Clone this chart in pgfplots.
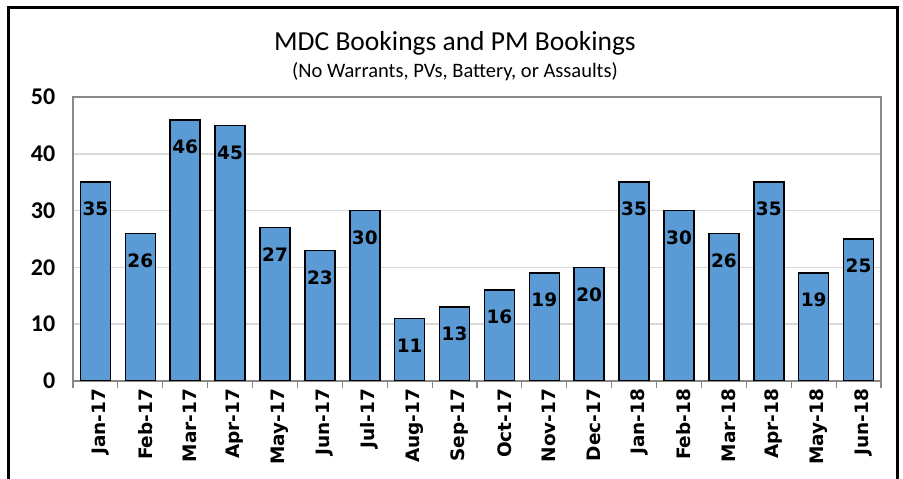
\documentclass[border=0pt]{standalone}
\usepackage{pgfplots}
\pgfplotsset{compat=1.18}
\usepackage{fontspec}
\setmainfont{Carlito}
\newfontfamily\dv{DejaVu Sans}
\definecolor{barblue}{HTML}{5B9BD5}
\definecolor{axgray}{HTML}{898989}
\definecolor{gridgray}{HTML}{D9D9D9}
\begin{document}
\begin{tikzpicture}[x=1pt,y=1pt]
\path[use as bounding box] (0,0) rectangle (903,479);
\fill[white] (0,0) rectangle (903,479);
\begin{axis}[at={(73pt,98pt)}, anchor=south west, width=808pt, height=284pt, scale only axis,
  /pgf/number format/assume math mode=true,
  xmin=-0.5, xmax=17.5, ymin=0, ymax=50,
  ytick={0,10,...,50},
  xtick={0,...,17},
  xticklabels={Jan-17,Feb-17,Mar-17,Apr-17,May-17,Jun-17,Jul-17,Aug-17,Sep-17,Oct-17,Nov-17,Dec-17,Jan-18,Feb-18,Mar-18,Apr-18,May-18,Jun-18},
  minor xtick={-0.5,0.5,...,17.5},
  xtick pos=bottom, ytick pos=left,
  axis line style={axgray, line width=1.5pt},
  ymajorgrids, major grid style={gridgray, line width=1.5pt},
  major x tick style={draw=none}, ytick style={draw=none},
  minor x tick style={axgray, line width=1.2pt},
  minor tick length=7pt, tick align=outside,
  x tick label style={rotate=90, anchor=east, font=\dv\bfseries\fontsize{18.5}{18.5}\selectfont, yshift=-5pt},
  y tick label style={font=\bfseries\fontsize{24}{24}\selectfont, xshift=-10pt},
]
\addplot[ybar, bar width=30pt, fill=barblue, draw=black, line width=1.6pt,
  nodes near coords,
  every node near coord/.append style={font=\dv\bfseries\fontsize{18.5}{18.5}\selectfont, anchor=center, yshift=-27pt, text=black}]
  coordinates {(0,35) (1,26) (2,46) (3,45) (4,27) (5,23) (6,30) (7,11) (8,13) (9,16) (10,19) (11,20) (12,35) (13,30) (14,26) (15,35) (16,19) (17,25)};
\end{axis}
\node at (455,436) {\fontsize{27.5}{27.5}\selectfont MDC Bookings and PM Bookings};
\node at (455,407) {\fontsize{20.5}{20.5}\selectfont (No Warrants, PVs, Battery, or Assaults)};
\draw[line width=3pt] (8,-5) -- (8,471) -- (897,471) -- (897,-5);
\end{tikzpicture}
\end{document}
